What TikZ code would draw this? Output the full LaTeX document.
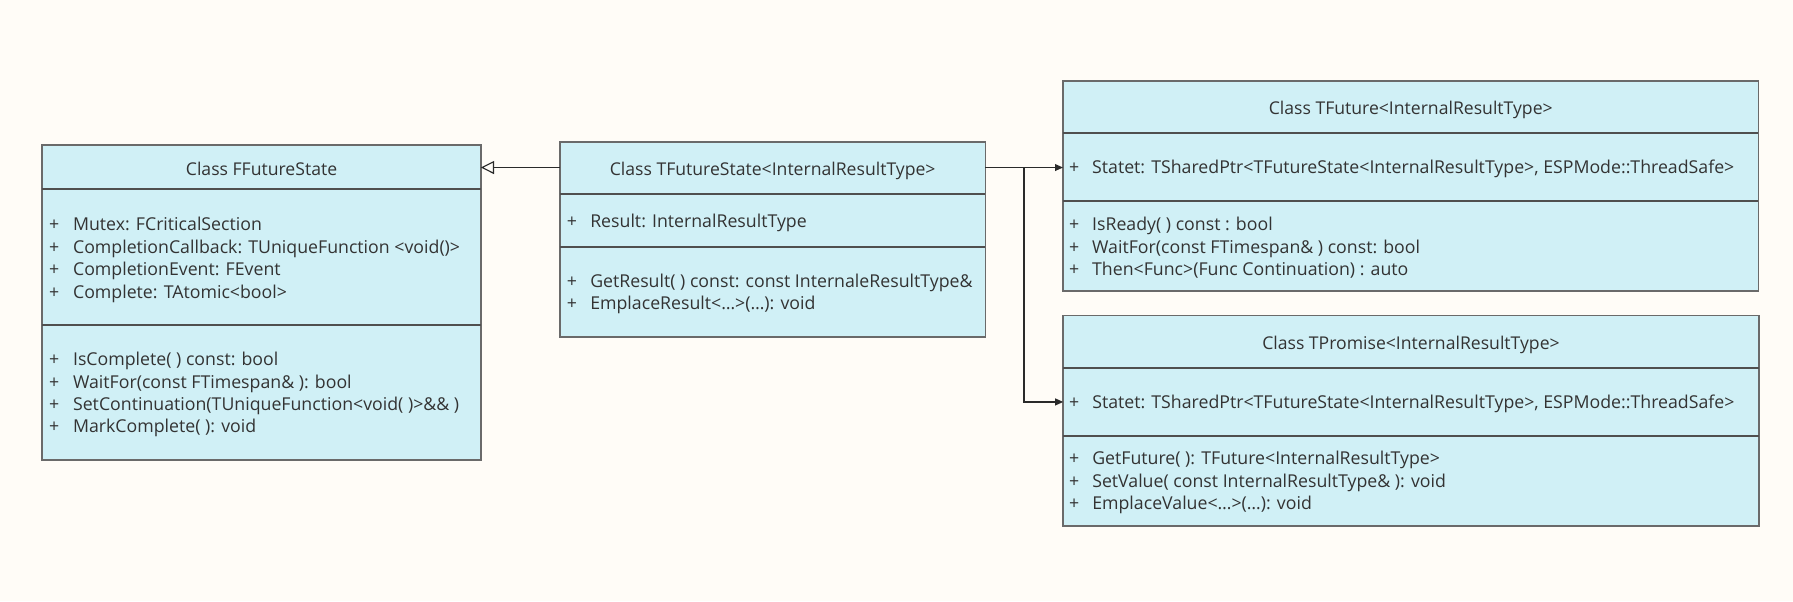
\documentclass[tikz,border=0pt]{standalone}
\usepackage{fontspec}
\setmainfont{Open Sans}
\usetikzlibrary{arrows.meta}
\definecolor{bg}{HTML}{FFFCF7}
\definecolor{boxfill}{HTML}{D0F0F6}
\definecolor{boxline}{HTML}{6A6A6A}
\definecolor{divline}{HTML}{4F4F4F}
\definecolor{txtcol}{HTML}{333333}
\definecolor{conncol}{HTML}{2A2A2A}
\newcommand{\umlrow}[5]{%
  \node[rowtext] (#1p) at (#3,{#2+5.4}) {+};
  \node[rowtext] (#1) at (#4,{#2+5.4}) {#5};}
\begin{document}
\begin{tikzpicture}[x=1pt,y=-1pt,
  umlbox/.style={draw=boxline, fill=boxfill, line width=1.5pt, inner sep=0pt, outer sep=0pt, anchor=north west},
  divider/.style={draw=divline, line width=1.9pt},
  rowtext/.style={anchor=base west, inner sep=0pt, text=txtcol, font=\fontsize{15.5}{18}\selectfont},
  titletext/.style={anchor=base, inner sep=0pt, text=txtcol, font=\fontsize{15.4}{18}\selectfont},
  conn/.style={draw=conncol, line width=1pt},
  filledtip/.style={-{Triangle[length=7pt,width=6pt]}},
  opentip/.style={-{Triangle[open,length=11.6pt,width=11.4pt]}}
]
\fill[bg] (0,0) rectangle (1568,525.6);
\useasboundingbox (0,0) rectangle (1568,525.6);

% Box A: FFutureState
\node[umlbox, minimum width=383.5pt, minimum height=275.3pt] (A) at (37,127) {};
\draw[divider] (A.west |- 0,165.6) -- (A.east |- 0,165.6);
\draw[divider] (A.west |- 0,284.2) -- (A.east |- 0,284.2);
\node[titletext] (At) at (228.7,153.2) {Class FFutureState};
\umlrow{Aa1}{196}{42.7}{63.7}{Mutex: FCriticalSection}
\umlrow{Aa2}{216}{42.7}{63.7}{CompletionCallback: TUniqueFunction <void()>}
\umlrow{Aa3}{235.5}{42.7}{63.7}{CompletionEvent: FEvent}
\umlrow{Aa4}{255.5}{42.7}{63.7}{Complete: TAtomic<bool>}
\umlrow{Am1}{314}{42.7}{63.7}{IsComplete( ) const: bool}
\umlrow{Am2}{334}{42.7}{63.7}{WaitFor(const FTimespan\& ): bool}
\umlrow{Am3}{353.5}{42.7}{63.7}{SetContinuation(TUniqueFunction<void( )>\&\& )}
\umlrow{Am4}{373}{42.7}{63.7}{MarkComplete( ): void}

% Box B: TFutureState
\node[umlbox, minimum width=372pt, minimum height=170.4pt] (B) at (489.7,124) {};
\draw[divider] (B.west |- 0,169.4) -- (B.east |- 0,169.4);
\draw[divider] (B.west |- 0,215.7) -- (B.east |- 0,215.7);
\node[titletext] (Bt) at (675.7,153.2) {Class TFutureState<InternalResultType>};
\umlrow{Ba1}{193.3}{495.6}{516}{Result: InternalResultType}
\umlrow{Bm1}{246.3}{495.6}{516}{GetResult( ) const: const InternaleResultType\&}
\umlrow{Bm2}{265.3}{495.6}{516}{EmplaceResult<…>(…): void}

% Box C: TFuture
\node[umlbox, minimum width=608.2pt, minimum height=183.4pt] (C) at (929.6,70.8) {};
\draw[divider] (C.west |- 0,116.6) -- (C.east |- 0,116.6);
\draw[divider] (C.west |- 0,175.5) -- (C.east |- 0,175.5);
\node[titletext] (Ct) at (1233.7,99.9) {Class TFuture<InternalResultType>};
\umlrow{Ca1}{146.5}{934.7}{954.9}{Statet: TSharedPtr<TFutureState<InternalResultType>, ESPMode::ThreadSafe>}
\umlrow{Cm1}{196.2}{934.7}{954.9}{IsReady( ) const : bool}
\umlrow{Cm2}{216}{934.7}{954.9}{WaitFor(const FTimespan\& ) const: bool}
\umlrow{Cm3}{235.5}{934.7}{954.9}{Then<Func>(Func Continuation) : auto}

% Box D: TPromise
\node[umlbox, minimum width=608.2pt, minimum height=183.7pt] (D) at (929.8,276) {};
\draw[divider] (D.west |- 0,322) -- (D.east |- 0,322);
\draw[divider] (D.west |- 0,381) -- (D.east |- 0,381);
\node[titletext] (Dt) at (1233.9,305.6) {Class TPromise<InternalResultType>};
\umlrow{Da1}{351.5}{934.7}{955}{Statet: TSharedPtr<TFutureState<InternalResultType>, ESPMode::ThreadSafe>}
\umlrow{Dm1}{400.8}{934.7}{955}{GetFuture( ): TFuture<InternalResultType>}
\umlrow{Dm2}{421}{934.7}{955}{SetValue( const InternalResultType\& ): void}
\umlrow{Dm3}{440.2}{934.7}{955}{EmplaceValue<…>(…): void}

% connectors
\coordinate (lvl) at (0,146.5);
\coordinate (dlvl) at (0,351.5);
\coordinate (J) at (895.5,146.5);
\draw[conn, opentip] (B.west |- lvl) -- (A.east |- lvl);
\draw[conn, filledtip] (B.east |- lvl) -- (C.west |- lvl);
\draw[conn, filledtip] (J) |- (D.west |- dlvl);
\end{tikzpicture}
\end{document}
